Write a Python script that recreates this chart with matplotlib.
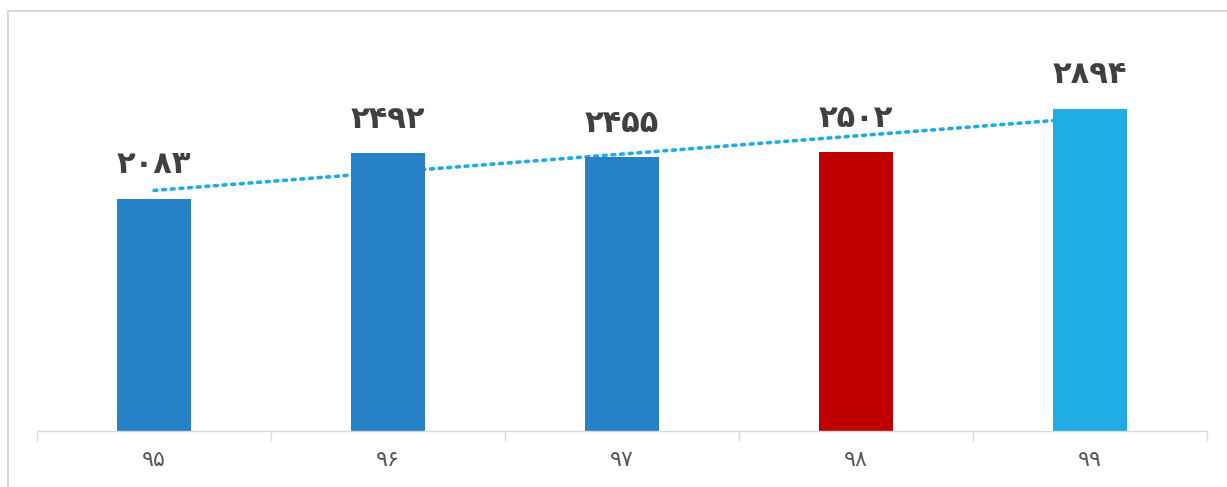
import matplotlib
matplotlib.use("Agg")
import matplotlib.pyplot as plt
import numpy as np
from matplotlib.lines import Line2D

# data
years = ["۹۵", "۹۶", "۹۷", "۹۸", "۹۹"]
values = [2083, 2492, 2455, 2502, 2894]
value_labels = ["۲۰۸۳", "۲۴۹۲", "۲۴۵۵", "۲۵۰۲", "۲۸۹۴"]
bar_colors = ["#2781C6", "#2781C6", "#2781C6", "#C00000", "#1FABE3"]

W, H = 1227, 487
fig = plt.figure(figsize=(W / 100, H / 100), dpi=100)
plt.rcParams['font.family'] = ['DejaVu Sans']

# axes placement in pixels
left, right, base, top = 37, 1207, 431, 41
ax = fig.add_axes([left / W, (H - base) / H, (right - left) / W, (base - top) / H])

x = np.arange(len(values))
ax.bar(x, values, width=0.316, color=bar_colors, zorder=2)

# linear trendline
k, b = np.polyfit(x, values, 1)
ax.plot(x, k * x + b, linestyle=(0, (0.8, 1.6)), color="#1FABE3", linewidth=2.6,
        dash_capstyle="round", zorder=1)

for xi, v, lab in zip(x, values, value_labels):
    ax.annotate(lab, (xi, v), xytext=(0, 14), textcoords="offset points",
                ha="center", va="bottom", fontsize=22, fontweight="bold",
                color="#404040")

ax.set_xlim(-0.5, len(values) - 0.5)
ax.set_ylim(0, 3500)
ax.set_yticks([])
ax.set_xticks(x)
ax.set_xticklabels(years, fontsize=16, color="#595959")
ax.tick_params(axis="x", length=0, pad=14)
ax.set_xticks(np.arange(-0.5, len(values)), minor=True)
ax.tick_params(axis="x", which="minor", length=7, width=1, color="#D9D9D9")
for s in ["top", "right", "left"]:
    ax.spines[s].set_visible(False)
ax.spines["bottom"].set_color("#D9D9D9")
ax.spines["bottom"].set_linewidth(1)

# outer chart frame (left and top edges)
fig.add_artist(Line2D([7.5 / W, 7.5 / W], [0, 1 - 10.5 / H], transform=fig.transFigure,
                      color="#D9D9D9", linewidth=1.5))
fig.add_artist(Line2D([7.5 / W, 1], [1 - 10.5 / H, 1 - 10.5 / H], transform=fig.transFigure,
                      color="#D9D9D9", linewidth=1.5))

fig.savefig("out.png", dpi=100, facecolor="white")
